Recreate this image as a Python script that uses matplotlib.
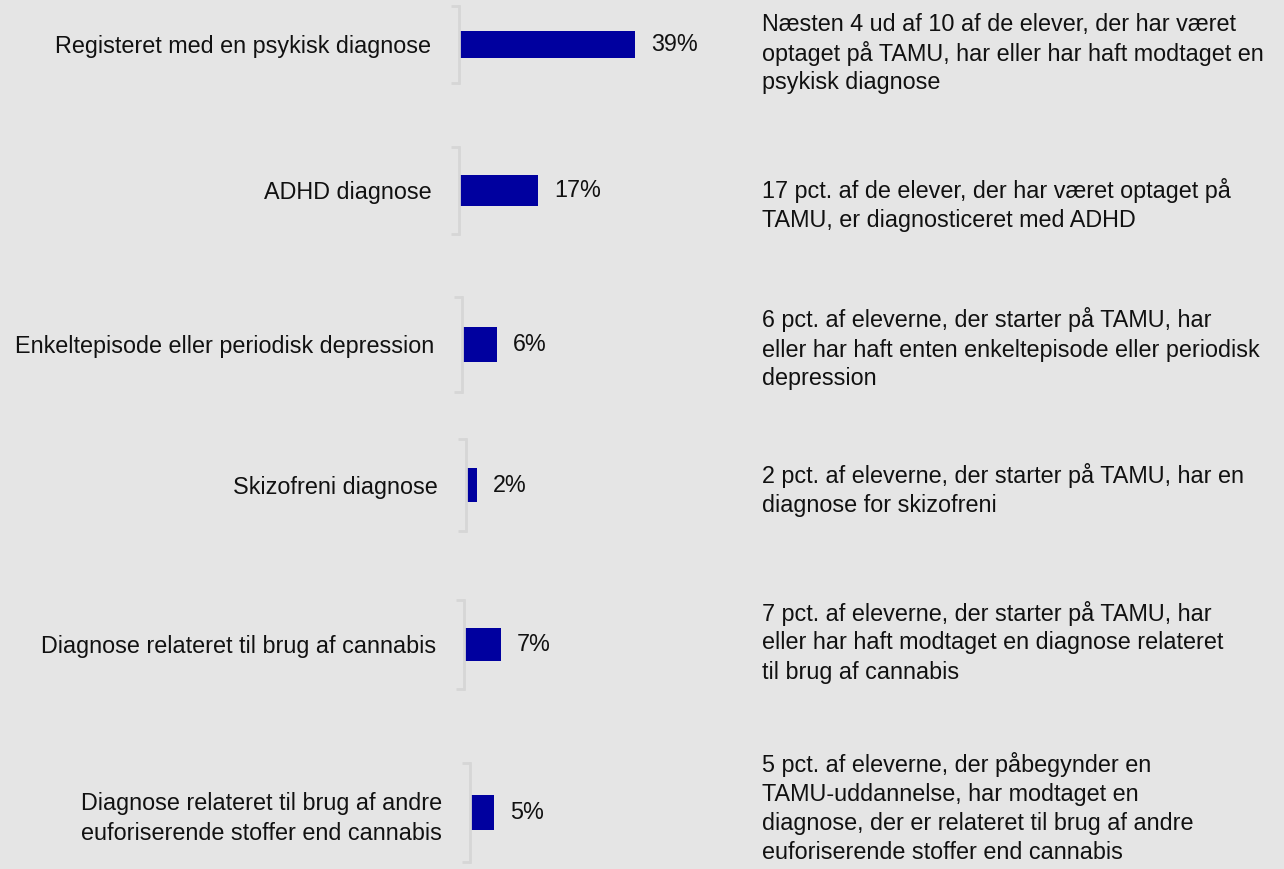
import matplotlib
matplotlib.use("Agg")
import matplotlib.pyplot as plt

plt.rcParams['font.family'] = ['Liberation Sans', 'DejaVu Sans']

categories = [
    "Registeret med en psykisk diagnose",
    "ADHD diagnose",
    "Enkeltepisode eller periodisk depression",
    "Skizofreni diagnose",
    "Diagnose relateret til brug af cannabis",
    "Diagnose relateret til brug af andre\neuforiserende stoffer end cannabis",
]
values = [39, 17, 6, 2, 7, 5]
notes = [
    "Næsten 4 ud af 10 af de elever, der har været\noptaget på TAMU, har eller har haft modtaget en\npsykisk diagnose",
    "17 pct. af de elever, der har været optaget på\nTAMU, er diagnosticeret med ADHD",
    "6 pct. af eleverne, der starter på TAMU, har\neller har haft enten enkeltepisode eller periodisk\ndepression",
    "2 pct. af eleverne, der starter på TAMU, har en\ndiagnose for skizofreni",
    "7 pct. af eleverne, der starter på TAMU, har\neller har haft modtaget en diagnose relateret\ntil brug af cannabis",
    "5 pct. af eleverne, der påbegynder en\nTAMU-uddannelse, har modtaget en\ndiagnose, der er relateret til brug af andre\neuforiserende stoffer end cannabis",
]

# layout per row (pixels): bracket x, bracket top, bracket bottom, px per unit, note centre y
W, H = 1284, 869
rows = [
    (459, 6, 83, 4.51, 52),
    (459, 147, 234, 4.65, 204),
    (462, 297, 392, 5.83, 348),
    (466, 439, 531, 5.5, 489),
    (464, 600, 689, 5.29, 641),
    (470, 763, 862, 4.8, 807),
]

BG = "#e5e5e5"
BAR = "#00009f"
GRID = "#d6d6d6"
FS = 16.8
PITCH = 29

fig = plt.figure(figsize=(W / 100, H / 100), dpi=100, facecolor=BG)

for cat, val, note, (x0, top, bot, scale, ny) in zip(categories, values, notes, rows):
    aw = 260
    ax = fig.add_axes([x0 / W, 1 - bot / H, aw / W, (bot - top) / H])
    ax.set_facecolor("none")
    ax.barh([0], [val], height=0.36, color=BAR)
    ax.set_xlim(0, aw / scale)
    ax.set_ylim(-0.5, 0.5)
    for s in ["top", "right", "bottom"]:
        ax.spines[s].set_visible(False)
    ax.spines["left"].set_color(GRID)
    ax.spines["left"].set_linewidth(2)
    ax.set_xticks([])
    ax.set_yticks([0])
    ax.set_yticklabels([cat], fontsize=FS, color="#111111", linespacing=1.4)
    ax.tick_params(axis="y", which="major", length=0, pad=20)
    ax.set_yticks([-0.5, 0.5], minor=True)
    ax.tick_params(axis="y", which="minor", length=6, width=2, color=GRID)
    ax.annotate(f"{val}%", xy=(val, 0), xytext=(11.5, 0), textcoords="offset points",
                ha="left", va="center", fontsize=FS, color="#111111")
    lines = note.split("\n")
    n = len(lines)
    for i, line in enumerate(lines):
        yc = ny + (i - (n - 1) / 2) * PITCH
        ax.text(762 / W, 1 - (yc + 8.5) / H, line, transform=fig.transFigure,
                ha="left", va="baseline", fontsize=FS, color="#111111")

fig.savefig("out.png", dpi=100, facecolor=BG)
